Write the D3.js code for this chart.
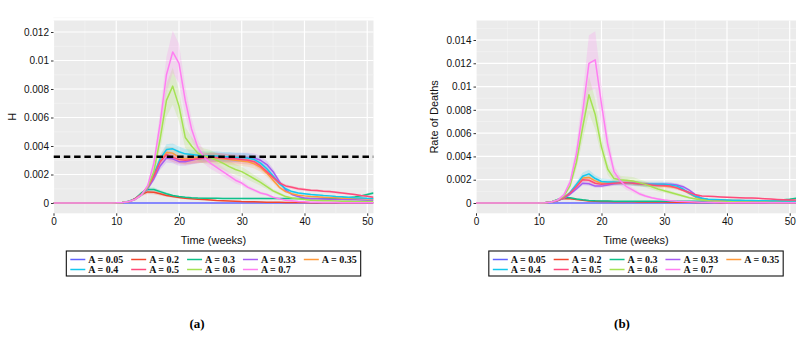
<!DOCTYPE html>
<html>
<head>
<meta charset="utf-8">
<script src="https://cdn.jsdelivr.net/npm/d3@7"></script>
<style>
  body { margin: 0; background: #fff; }
  svg { display: block; }
</style>
</head>
<body>
<div id="chart"></div>
<script>
// values are in units of 1e-4, one per week (week 0 .. 51)
var weeks = d3.range(0, 52);
var levels = ["0.05", "0.2", "0.3", "0.33", "0.35", "0.4", "0.5", "0.6", "0.7"];
var colors = ["#5F62FF", "#F2452C", "#0DC08A", "#A55BF2", "#FF9A3A", "#12C8EE", "#FF4A7A", "#A4E252", "#FF7EF2"];
var ticksHosp = [0, 0.002, 0.004, 0.006, 0.008, 0.01, 0.012];
var ticksDeath = [0, 0.002, 0.004, 0.006, 0.008, 0.01, 0.012, 0.014];
var ticksWeek = [0, 10, 20, 30, 40, 50];
var capacityH = 0.00325;

// panel (a): H
var h005 = [0,0,0,0,0,0,0,0,0,0, 0,0,0,0,0,0,0,0,0,0, 0,0,0,0,0,0,0,0,0,0, 0,0,0,0,0,0,0,0,0,0, 0,0,0,0,0,0,0,0,0,0, 0,0];
var h02 = [0,0,0,0,0,0,0,0,0,0, 0.1,0.3,1,3,6,7.8,7.5,6.5,5.3,4.5, 3.8,3.3,3,2.7,2.4,2.1,1.8,1.6,1.4,1.2, 1,0.9,0.8,0.7,0.6,0.5,0.45,0.4,0.35,0.3, 0.3,0.25,0.25,0.2,0.2,0.2,0.15,0.15,0.1,0.1, 0.1,0.1];
var h03 = [0,0,0,0,0,0,0,0,0,0, 0.1,0.3,1,3,7,9.5,9.5,8,6.5,5.3, 4.5,4,3.7,3.5,3.4,3.3,3.3,3.2,3.2,3.2, 3.2,3.2,3.2,3.2,3.1,3.1,3.1,3.1,3.1,3.1, 3.1,3.1,3.1,3.1,3.1,3.1,3.3,3.7,4.3,5, 6,7];
var h033 = [0,0,0,0,0,0,0,0,0,0, 0.1,0.3,0.8,2.5,5.5,10,17,26,31.5,31, 29,29,30,31,31.5,32,32,32,32,32, 32,32,31.5,30,27,22,15,9,6,4.5, 3.5,3,3,2.8,2.6,2.5,2.4,2.3,2.2,2.1, 2,2];
var h035 = [0,0,0,0,0,0,0,0,0,0, 0.1,0.3,1,3,6,11,19,30,35.5,35, 32,31,31.5,32,32,32,31.5,31,30.5,30, 29.5,29,27.5,25,21,16,11,8,6.5,5.5, 5,4.6,4.3,4,3.8,3.6,3.4,3.3,3.2,3.1, 3,3];
var h04 = [0,0,0,0,0,0,0,0,0,0, 0.1,0.3,1.2,3,6,11,20,31,37.5,38, 36,34.5,34,33.5,33,33,33,32.5,32.5,32, 32,31.5,30.5,28,24,19,13.5,10,8,7, 6.5,6,5.7,5.3,5,4.6,4.3,4,3.7,3.5, 3.3,3.2];
var h05 = [0,0,0,0,0,0,0,0,0,0, 0.1,0.3,1,3,6,11,19,29,34,32, 30.5,30,30.5,31,31.5,32,32,31.5,31,31, 30.5,30,29,26,22,18,14,12,11,10, 9.5,9,8.7,8.3,8,7.5,7,6.5,6,5.3, 4.7,4];
var h06 = [0,0,0,0,0,0,0,0,0,0, 0.1,0.3,1,2.5,5.5,11,22,45,72,82, 68,46,40,35,33,32,30,28,25.5,23.5, 22,19.5,17,14.5,11.5,8.5,6.5,4.5,3.5,3, 2.5,2,1.8,1.6,1.5,1.4,1.3,1.2,1.1,1, 1,1];
var h07 = [0,0,0,0,0,0,0,0,0,0, 0.1,0.3,1,2.5,5.6,12,28,56,90,106, 98,72,52,39,32,28,25,22,19,16, 14,11,9,7,6,4,3,2,1.5,1, 0.8,0.6,0.5,0.4,0.3,0.3,0.2,0.2,0.2,0.1, 0.1,0.1];
var spreadHosp = [0, 0.18, 0.14, 0.1, 0.12, 0.1, 0.1, 0.16, 0.14];

// panel (b): rate of deaths
var d005 = [0,0,0,0,0,0,0,0,0,0, 0,0,0,0,0,0,0,0,0,0, 0,0,0,0,0,0,0,0,0,0, 0,0,0,0,0,0,0,0,0,0, 0,0,0,0,0,0,0,0,0,0, 0,0];
var d02 = [0,0,0,0,0,0,0,0,0,0, 0.1,0.2,0.8,2.5,3.8,3.7,3,2.3,1.8,1.5, 1.3,1.2,1.1,1.05,1,1,0.95,0.9,0.85,0.8, 0.8,0.75,0.7,0.65,0.6,0.5,0.45,0.4,0.35,0.3, 0.3,0.3,0.25,0.25,0.2,0.2,0.2,0.2,0.2,0.2, 0.2,0.2];
var d03 = [0,0,0,0,0,0,0,0,0,0, 0.1,0.3,1,3,4.8,4.5,3.5,2.7,2.2,1.9, 1.8,1.7,1.6,1.6,1.6,1.6,1.6,1.6,1.6,1.6, 1.6,1.6,1.6,1.6,1.6,1.6,1.6,1.6,1.6,1.6, 1.6,1.6,1.6,1.6,1.6,1.6,1.8,2,2.4,2.8, 3.3,4];
var d033 = [0,0,0,0,0,0,0,0,0,0, 0.1,0.2,0.6,1.8,4,7.5,12,17,16.5,14.5, 14.5,15.5,16.5,17,17.5,17,16.5,16,16,16, 16,16,15.5,14,11,7,4,2.8,2.2,2, 1.8,1.7,1.6,1.6,1.5,1.5,1.5,1.5,1.5,1.5, 1.5,1.5];
var d035 = [0,0,0,0,0,0,0,0,0,0, 0.1,0.2,0.8,2,4.5,9,15,21.5,22,19, 17,17,17.5,17.5,17.5,17,16.5,16,15.5,15, 14.5,14,13,11,8,5,3.5,3,2.7,2.5, 2.3,2.2,2.1,2,2,1.9,1.8,1.7,1.6,1.6, 1.5,1.5];
var d04 = [0,0,0,0,0,0,0,0,0,0, 0.1,0.2,0.8,2,4.5,9,16,23,25,21, 18.5,18,18,17.5,17.5,17,16.5,16,16,16, 16,15.5,14.5,12,8.5,5.5,4,3.3,3,2.7, 2.5,2.4,2.3,2.2,2.1,2,1.9,1.8,1.7,1.6, 1.5,1.5];
var d05 = [0,0,0,0,0,0,0,0,0,0, 0.1,0.2,0.8,2,4.5,8.5,14,20,19.5,17, 16,16.5,17,17.5,17.5,17,16.5,16,15.5,15, 15,14.5,13,11,9,7,6,5.7,5.5,5.2, 5,4.8,4.6,4.4,4.2,4,3.7,3.4,3.1,2.8, 2.6,2.5];
var d06 = [0,0,0,0,0,0,0,0,0,0, 0.1,0.2,0.8,2.5,6,15,35,65,93,76, 48,29,21,20,19.5,19,17.5,16,14,12, 10.5,9,7.5,6,4.5,3.5,2.5,2,1.6,1.3, 1.1,1,0.9,0.8,0.7,0.6,0.6,0.5,0.5,0.5, 0.5,0.5];
var d07 = [0,0,0,0,0,0,0,0,0,0, 0.1,0.2,0.8,2.5,7,18,42,78,120,123, 85,50,27,19,14,11,8,6,4.5,3.5, 2.5,2,1.5,1.2,1,0.8,0.7,0.6,0.5,0.4, 0.3,0.3,0.3,0.2,0.2,0.2,0.2,0.2,0.2,0.2, 0.2,0.2];
var spreadDeath = [0, 0.18, 0.14, 0.1, 0.12, 0.14, 0.1, 0.17, 0.2];

var unit = 1e-4;

function init(){
    var W = 806, H = 340;
    var svg = d3.select("#chart").append("svg")
        .attr("width", W)
        .attr("height", H);

    drawPanel(svg, {
        id: "a", left: 53.5, right: 373.5, top: 20.5, bottom: 213.3,
        y0: 203, ymaxTick: 0.012, ymaxPx: 32,
        ticks: ticksHosp, ytitle: "H", ytitleX: 12,
        series: [h005, h02, h03, h033, h035, h04, h05, h06, h07],
        spread: spreadHosp, hline: capacityH, caption: "(a)", capX: 197
    });
    drawPanel(svg, {
        id: "b", left: 476, right: 796, top: 20.5, bottom: 213.3,
        y0: 203, ymaxTick: 0.014, ymaxPx: 40,
        ticks: ticksDeath, ytitle: "Rate of Deaths", ytitleX: 434,
        series: [d005, d02, d03, d033, d035, d04, d05, d06, d07],
        spread: spreadDeath, hline: null, caption: "(b)", capX: 622
    });
}

function drawPanel(svg, o){
    var g = svg.append("g");
    var x = d3.scaleLinear().domain([0, 51]).range([o.left, o.right]);
    var y = d3.scaleLinear().domain([0, o.ymaxTick]).range([o.y0, o.ymaxPx]);

    // background
    g.append("rect")
        .attr("x", o.left).attr("y", o.top)
        .attr("width", o.right - o.left).attr("height", o.bottom - o.top)
        .attr("fill", "#EBEBEB");

    // minor grid
    var minorX = [5, 15, 25, 35, 45];
    var minorY = o.ticks.map(d => d + 0.001);
    g.selectAll(".mgx").data(minorX).enter().append("line")
        .attr("x1", d => x(d)).attr("x2", d => x(d))
        .attr("y1", o.top).attr("y2", o.bottom)
        .attr("stroke", "#F5F5F5").attr("stroke-width", 0.6);
    g.selectAll(".mgy").data(minorY).enter().append("line")
        .attr("x1", o.left).attr("x2", o.right)
        .attr("y1", d => y(d)).attr("y2", d => y(d))
        .attr("stroke", "#F5F5F5").attr("stroke-width", 0.6);

    // major grid
    g.selectAll(".gx").data(ticksWeek).enter().append("line")
        .attr("x1", d => x(d)).attr("x2", d => x(d))
        .attr("y1", o.top).attr("y2", o.bottom)
        .attr("stroke", "#fff").attr("stroke-width", 1.2);
    g.selectAll(".gy").data(o.ticks).enter().append("line")
        .attr("x1", o.left).attr("x2", o.right)
        .attr("y1", d => y(d)).attr("y2", d => y(d))
        .attr("stroke", "#fff").attr("stroke-width", 1.2);

    // clip
    svg.append("clipPath").attr("id", "clip_" + o.id)
        .append("rect")
        .attr("x", o.left).attr("y", o.top)
        .attr("width", o.right - o.left).attr("height", o.bottom - o.top);
    var plot = g.append("g").attr("clip-path", "url(#clip_" + o.id + ")");

    var area = d3.area()
        .x((d, i) => x(weeks[i]))
        .y0(d => y(d[0]))
        .y1(d => y(d[1]));
    var line = d3.line()
        .x((d, i) => x(weeks[i]))
        .y(d => y(d * unit));

    // ribbons (confidence band)
    o.series.forEach((s, k) => {
        var band = s.map(v => [v * unit * (1 - o.spread[k]), v * unit * (1 + o.spread[k])]);
        plot.append("path")
            .datum(band)
            .attr("d", area)
            .attr("fill", colors[k])
            .attr("fill-opacity", 0.2);
    });
    // mean lines
    o.series.forEach((s, k) => {
        plot.append("path")
            .datum(s)
            .attr("d", line)
            .attr("fill", "none")
            .attr("stroke", colors[k])
            .attr("stroke-width", 1.5)
            .attr("stroke-linejoin", "round");
    });

    if (o.hline != null) {
        plot.append("line")
            .attr("x1", o.left).attr("x2", o.right)
            .attr("y1", y(o.hline)).attr("y2", y(o.hline))
            .attr("stroke", "#000")
            .attr("stroke-width", 2.4)
            .attr("stroke-dasharray", "6.5,3.8");
    }

    // axes
    var fmt = d => String(+d.toFixed(3));
    var yAxis = d3.axisLeft(y).tickValues(o.ticks).tickFormat(fmt).tickSize(2.5).tickPadding(2);
    var gy = g.append("g").attr("transform", "translate(" + o.left + ",0)").call(yAxis);
    var xAxis = d3.axisBottom(x).tickValues(ticksWeek).tickSize(2.5).tickPadding(2.5);
    var gx = g.append("g").attr("transform", "translate(0," + o.bottom + ")").call(xAxis);
    [gx, gy].forEach(a => {
        a.select(".domain").remove();
        a.selectAll(".tick line").attr("stroke", "#333");
        a.selectAll("text")
            .attr("fill", "#111")
            .style("font-family", "'Liberation Sans', Arial, sans-serif")
            .style("font-size", "10px");
    });

    // titles
    var cx = (o.left + o.right) / 2;
    g.append("text")
        .attr("x", cx).attr("y", 244)
        .attr("text-anchor", "middle")
        .style("font-family", "'Liberation Sans', Arial, sans-serif")
        .style("font-size", "11px")
        .attr("fill", "#111")
        .text("Time (weeks)");
    g.append("text")
        .attr("transform", "translate(" + (o.ytitleX + 4) + "," + ((o.top + o.bottom) / 2) + ") rotate(-90)")
        .attr("text-anchor", "middle")
        .style("font-family", "'Liberation Sans', Arial, sans-serif")
        .style("font-size", "11px")
        .attr("fill", "#111")
        .text(o.ytitle);

    // legend
    var leg = g.append("g");
    var cols = 5, keyLen = 15, keyGap = 3, colGap = 8, rowH = 10;
    var items = levels.map((l, i) => ({ label: "A = " + l, color: colors[i], col: i % cols, row: Math.floor(i / cols) }));
    var texts = leg.selectAll("text").data(items).enter().append("text")
        .style("font-family", "'Liberation Serif', 'DejaVu Serif', serif")
        .style("font-weight", "bold")
        .style("font-size", "10px")
        .attr("fill", "#111")
        .text(d => d.label);
    var widths = [];
    texts.each(function(d){
        var w = this.getComputedTextLength();
        widths[d.col] = Math.max(widths[d.col] || 0, w);
    });
    var colX = [], acc = 0;
    for (var c = 0; c < cols; c++) {
        colX.push(acc);
        acc += keyLen + keyGap + widths[c] + (c < cols - 1 ? colGap : 0);
    }
    var padX = 4, boxW = acc + padX * 2, boxH = 25;
    var bx = cx - boxW / 2, by = 251;
    leg.insert("rect", "text")
        .attr("x", bx).attr("y", by)
        .attr("width", boxW).attr("height", boxH)
        .attr("fill", "#fff").attr("stroke", "#111").attr("stroke-width", 1.1);
    texts.attr("x", d => bx + padX + colX[d.col] + keyLen + keyGap)
        .attr("y", d => by + 11.5 + d.row * rowH);
    leg.selectAll(".key").data(items).enter().append("line")
        .attr("x1", d => bx + padX + colX[d.col])
        .attr("x2", d => bx + padX + colX[d.col] + keyLen)
        .attr("y1", d => by + 8.5 + d.row * rowH)
        .attr("y2", d => by + 8.5 + d.row * rowH)
        .attr("stroke", d => d.color)
        .attr("stroke-width", 1.5);

    // caption
    svg.append("text")
        .attr("x", o.capX).attr("y", 328)
        .attr("text-anchor", "middle")
        .style("font-family", "'Liberation Serif', 'Times New Roman', serif")
        .style("font-weight", "bold")
        .style("font-size", "13px")
        .attr("fill", "#000")
        .text(o.caption);
}

window.onload = init;
</script>
</body>
</html>
